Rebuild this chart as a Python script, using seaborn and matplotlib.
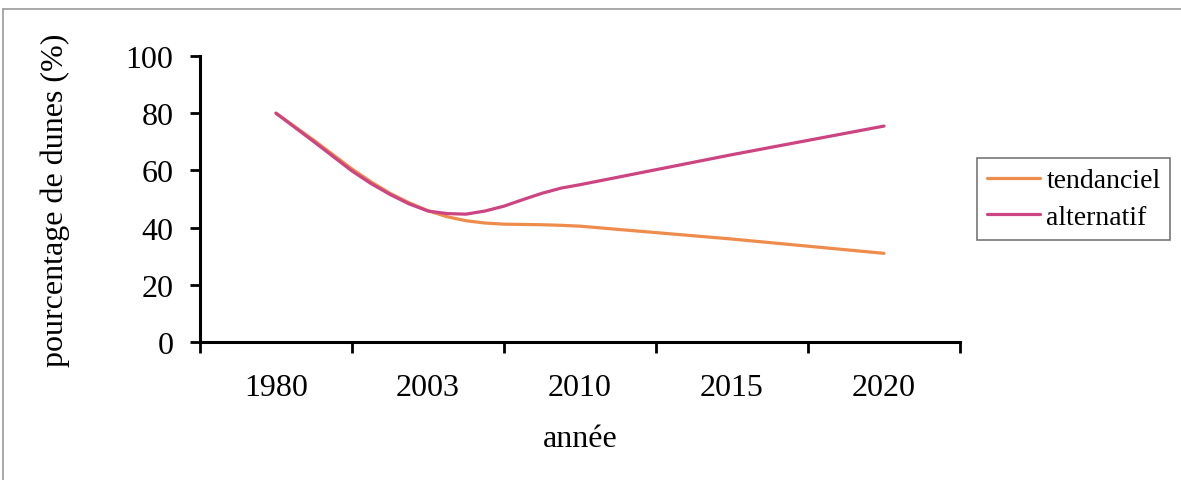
import matplotlib
matplotlib.use("Agg")
import matplotlib.pyplot as plt
from matplotlib.lines import Line2D
from matplotlib.ticker import FixedLocator
import seaborn as sns
import pandas as pd

# Category labels on the x axis (one slot per label)
years = ["1980", "2003", "2010", "2015", "2020"]

# Positions along the category axis where the curves were sampled
positions = [0.0, 0.25, 0.5, 0.625, 0.75, 0.875, 1.0, 1.125, 1.25, 1.375,
             1.5, 1.625, 1.75, 1.875, 2.0, 3.0, 4.0]

# Percentage of dunes, trend scenario
tendanciel = [80, 70.5, 60.5, 56.0, 52.0, 48.7, 45.9, 43.8, 42.4, 41.6,
              41.2, 41.1, 41.0, 40.8, 40.5, 36, 31]
# Percentage of dunes, alternative scenario
alternatif = [80, 70, 59.8, 55.4, 51.6, 48.3, 45.8, 44.9, 44.7, 45.8,
              47.5, 49.8, 52.0, 53.8, 55.0, 65.5, 75.5]

series_names = ["tendanciel", "alternatif"]
colors = {"tendanciel": "#EE8C4C", "alternatif": "#CC4482"}

df = pd.concat([
    pd.DataFrame({"pos": positions, "val": tendanciel, "serie": "tendanciel"}),
    pd.DataFrame({"pos": positions, "val": alternatif, "serie": "alternatif"}),
], ignore_index=True)

sns.set_theme(style="white")
plt.rcParams["font.family"] = ["Liberation Serif", "DejaVu Serif"]
plt.rcParams["text.color"] = "black"
plt.rcParams["axes.labelcolor"] = "black"
plt.rcParams["xtick.color"] = "black"
plt.rcParams["ytick.color"] = "black"

FS = 23
W, H = 1181, 481
fig = plt.figure(figsize=(W / 100, H / 100), dpi=100)
ax = fig.add_axes([200 / W, 1 - 343 / H, 760 / W, 286 / H])

sns.lineplot(data=df, x="pos", y="val", hue="serie", hue_order=series_names,
             palette=colors, linewidth=2.3, ax=ax, sort=False, estimator=None)

ax.set_xlim(-0.5, 4.5)
ax.set_ylim(0, 100)

# y axis
ax.set_yticks([0, 20, 40, 60, 80, 100])
ax.set_yticklabels(["0", "20", "40", "60", "80", "100"], fontsize=FS)
ax.tick_params(axis="y", direction="out", length=7, width=2,
               pad=12, left=True)

# x axis: labels centred in each slot, tick marks on the slot boundaries
ax.set_xticks(range(len(years)))
ax.set_xticklabels(years, fontsize=FS)
ax.tick_params(axis="x", which="major", length=0, pad=22)
ax.xaxis.set_minor_locator(FixedLocator([i - 0.5 for i in range(len(years) + 1)]))
ax.tick_params(axis="x", which="minor", direction="out", length=8, width=2,
               bottom=True)

for side in ["top", "right"]:
    ax.spines[side].set_visible(False)
for side in ["left", "bottom"]:
    ax.spines[side].set_color("black")
    ax.spines[side].set_linewidth(2.2)

ax.set_xlabel("année", fontsize=FS, labelpad=16)
ax.set_ylabel("pourcentage de dunes (%)", fontsize=FS, labelpad=40)
ax.grid(False)

handles, labels = ax.get_legend_handles_labels()
leg = ax.legend(handles, labels, loc="center left",
                bbox_to_anchor=(977 / W, 1 - 200 / H), bbox_transform=fig.transFigure,
                borderaxespad=0,
                fontsize=20, frameon=True, fancybox=False, edgecolor="#555555",
                handlelength=1.9, handletextpad=0.25, borderpad=0.35,
                labelspacing=0.4)
leg.get_frame().set_linewidth(1.2)
for line in leg.get_lines():
    line.set_linewidth(2.3)

# Outer chart-area frame: top and left edges
fig.lines.append(Line2D([3 / W, 1.0], [1 - 10 / H, 1 - 10 / H],
                        transform=fig.transFigure, color="#9a9a9a", linewidth=1.2))
fig.lines.append(Line2D([3 / W, 3 / W], [1 - 10 / H, 0.0],
                        transform=fig.transFigure, color="#9a9a9a", linewidth=1.2))

fig.savefig("out.png", dpi=100, facecolor="white")
